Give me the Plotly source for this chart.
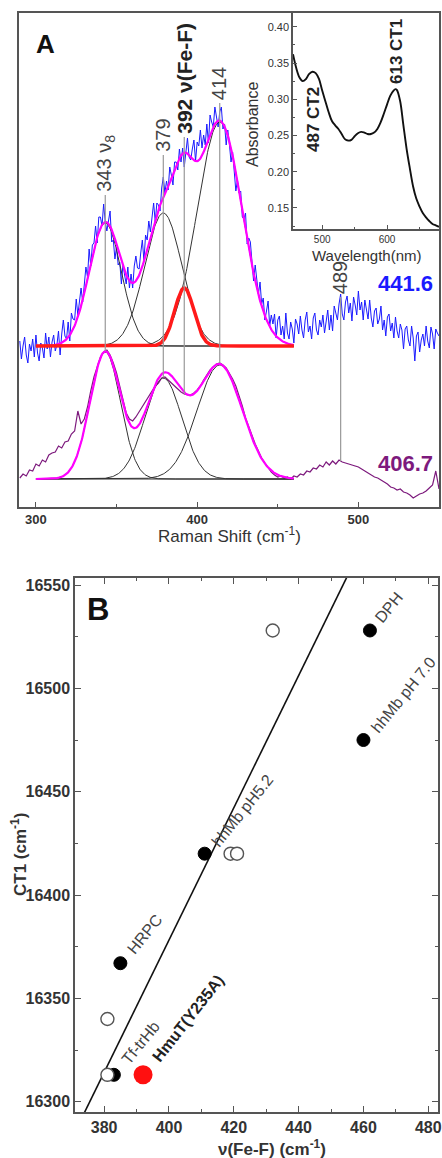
import numpy as np
import plotly.graph_objects as go

W, H = 442, 1158


def fx(p):
    return p / W


def fy(p):
    return 1 - p / H


# ---------------- Panel A: resonance Raman spectra ----------------
# 441.6 nm excitation, 1 cm-1 steps, intensity above its own baseline (a.u.)
shift_441 = list(range(290, 551))
spec_441 = [
    5, -13, 0, 9, -9, -17, 2, -5, 7, -11,
    11, -7, -15, 3, -2, -12, 13, -3, 9, -11,
    4, 11, -5, 1, 15, -9, 12, 26, 10, 7,
    24, 5, 33, 27, 26, 47, 31, 48, 58, 44,
    60, 79, 69, 97, 80, 101, 103, 120, 103, 129,
    129, 120, 142, 124, 115, 128, 135, 104, 106, 87,
    99, 81, 84, 62, 82, 71, 62, 79, 58, 72,
    58, 80, 90, 78, 77, 93, 106, 85, 111, 106,
    125, 114, 127, 143, 124, 143, 141, 135, 158, 169,
    153, 165, 156, 179, 171, 161, 184, 184, 176, 197,
    184, 198, 179, 197, 208, 189, 186, 197, 206, 185,
    204, 200, 216, 198, 211, 201, 222, 203, 231, 224,
    219, 239, 226, 219, 234, 239, 217, 222, 201, 216,
    202, 184, 194, 173, 155, 166, 153, 155, 129, 127,
    133, 102, 108, 104, 83, 65, 81, 68, 52, 64,
    42, 48, 26, 35, 45, 20, 31, 22, 32, 8,
    26, 30, 11, 20, 7, 33, 13, 7, 24, 17,
    3, 27, 22, 12, 30, 16, 8, 26, 34, 14,
    20, 7, 28, 33, 16, 11, 26, 19, 31, 13,
    23, 36, 16, 31, 15, 40, 33, 26, 42, 52,
    32, 26, 44, 50, 33, 43, 25, 49, 41, 31,
    55, 36, 44, 26, 46, 38, 27, 46, 28, 19,
    35, 38, 22, 27, 40, 16, 26, 10, 29, 32,
    15, 23, 8, 29, 15, 8, 22, 16, -3, 17,
    20, 6, 0, 20, 8, -15, 10, 14, -6, 6,
    12, 0, 20, 5, -2, 19, 12, -3, 17, 13,
    10,
]

# 406.7 nm excitation, 2 cm-1 steps, intensity above its own baseline (a.u.)
shift_406 = list(range(290, 551, 2))
spec_406 = [
    1, 5, 3, 9, 8, 15, 13, 19, 17, 24, 26, 27, 33, 31, 37, 38, 45, 48, 68, 55,
    60, 72, 88, 102, 112, 122, 127, 129, 124, 116, 106, 92, 78, 66, 60, 58, 62, 67, 73, 78,
    83, 87, 93, 96, 101, 102, 99, 95, 92, 89, 87, 85, 84, 84, 86, 89, 93, 99, 104, 109,
    112, 115, 116, 114, 111, 106, 100, 93, 84, 73, 61, 52, 44, 35, 28, 21, 16, 11, 7, 4,
    2, 3, 1, 2, 0, 3, 2, 5, 4, 8, 7, 11, 10, 14, 12, 17, 14, 18, 15, 19,
    17, 16, 15, 14, 13, 12, 10, 8, 6, 4, 2, 1, -1, -3, -5, -8, -9, -11, -10, -13,
    -14, -16, -19, -17, -15, -14, -12, -9, -6, 8, -10,
]

# stacking offsets of the two spectra
offset_441 = 161
offset_406 = 28

# Gaussian band-fit components: centre (cm-1), height, sigma (cm-1)
fit_centre_441 = [343, 379, 392, 414]
fit_height_441 = [123, 133, 58, 224]
fit_sigma_441 = [10, 11.5, 6, 14]

fit_centre_406 = [343, 379, 414]
fit_height_406 = [127, 101, 114]
fit_sigma_406 = [9.5, 11.5, 14]

fit_start, fit_end = 300, 460
fe_f_band = 392

# band markers
band_pos = [343, 379, 392, 414, 489]
band_text = ["343 ν<sub>8</sub>", "379", "<b>392 ν(Fe-F)</b>", "414", "489"]

# inset: absorption spectrum
wavelength = [455, 460, 465, 470, 475, 480, 485, 490, 495, 500, 505, 510, 515, 520,
              525, 530, 535, 540, 545, 550, 555, 560, 565, 570, 575, 580, 585, 590,
              595, 600, 605, 610, 613, 615, 620, 625, 630, 635, 640, 645, 650, 655,
              660, 665, 670, 675, 680]
absorbance = [0.362, 0.343, 0.330, 0.325, 0.328, 0.335, 0.338, 0.336, 0.328, 0.312,
              0.297, 0.282, 0.270, 0.264, 0.259, 0.252, 0.245, 0.243, 0.244, 0.249,
              0.253, 0.255, 0.254, 0.252, 0.252, 0.254, 0.259, 0.268, 0.280, 0.293,
              0.305, 0.312, 0.314, 0.313, 0.298, 0.265, 0.232, 0.205, 0.180, 0.163,
              0.152, 0.143, 0.137, 0.132, 0.128, 0.126, 0.124]

# ---------------- Panel B: CT1 vs v(Fe-F) ----------------
filled_x = [462, 460, 411, 385, 383]
filled_y = [16528, 16475, 16420, 16367, 16313]
filled_names = ["DPH", "hhMb pH 7.0", "hhMb pH5.2", "HRPC", "Tf-trHb"]

open_x = [432, 419, 421, 381, 381]
open_y = [16528, 16420, 16420, 16340, 16313]

hmut_x = [392]
hmut_y = [16313]
hmut_name = "HmuT(Y235A)"

corr_slope = 3.2
corr_intercept = 15098.2
corr_x = [370, 460]

# ------------------------------------------------------------------
FONT = "Liberation Sans, Arial, sans-serif"
TXT = "#333333"
AX = "#555555"

fit_x = np.linspace(fit_start, fit_end, 401)


def gauss(x, c, h, s):
    return h * np.exp(-((x - c) ** 2) / (2.0 * s ** 2))


fig = go.Figure()

# measured spectra
fig.add_trace(go.Scatter(x=shift_441, y=np.array(spec_441) + offset_441, mode="lines",
                         line=dict(color="#1a1aff", width=1), xaxis="x", yaxis="y"))
fig.add_trace(go.Scatter(x=shift_406, y=np.array(spec_406) + offset_406, mode="lines",
                         line=dict(color="#7d1a7d", width=1.2), xaxis="x", yaxis="y"))

# fit baselines
for off in (offset_441, offset_406):
    fig.add_trace(go.Scatter(x=[fit_start, fit_end], y=[off, off], mode="lines",
                             line=dict(color="#333333", width=1), xaxis="x", yaxis="y"))

# individual components (black)
comps_441 = []
for c, h, s in zip(fit_centre_441, fit_height_441, fit_sigma_441):
    g = gauss(fit_x, c, h, s)
    comps_441.append(g)
    if c != fe_f_band:
        fig.add_trace(go.Scatter(x=fit_x, y=g + offset_441, mode="lines",
                                 line=dict(color="#333333", width=1), xaxis="x", yaxis="y"))
comps_406 = []
for c, h, s in zip(fit_centre_406, fit_height_406, fit_sigma_406):
    g = gauss(fit_x, c, h, s)
    comps_406.append(g)
    fig.add_trace(go.Scatter(x=fit_x, y=g + offset_406, mode="lines",
                             line=dict(color="#333333", width=1), xaxis="x", yaxis="y"))

# total fits (magenta)
fig.add_trace(go.Scatter(x=fit_x, y=np.sum(comps_441, axis=0) + offset_441, mode="lines",
                         line=dict(color="#ff00ff", width=2.2), xaxis="x", yaxis="y"))
fig.add_trace(go.Scatter(x=fit_x, y=np.sum(comps_406, axis=0) + offset_406, mode="lines",
                         line=dict(color="#ff00ff", width=2.2), xaxis="x", yaxis="y"))

# Fe-F component (red)
fe_idx = fit_centre_441.index(fe_f_band)
fig.add_trace(go.Scatter(x=fit_x, y=comps_441[fe_idx] + offset_441, mode="lines",
                         line=dict(color="#ff1a1a", width=3.5), xaxis="x", yaxis="y"))

# inset absorption spectrum
fig.add_trace(go.Scatter(x=wavelength, y=absorbance, mode="lines", line_shape="spline",
                         line=dict(color="#111111", width=1.9), xaxis="x2", yaxis="y2"))

# Panel B: correlation line and points
fig.add_trace(go.Scatter(x=corr_x, y=[corr_intercept + corr_slope * v for v in corr_x],
                         mode="lines", line=dict(color="#111111", width=1.6),
                         xaxis="x3", yaxis="y3"))
fig.add_trace(go.Scatter(x=filled_x, y=filled_y, mode="markers",
                         marker=dict(size=13, color="#000000", line=dict(color="#000000", width=1)),
                         xaxis="x3", yaxis="y3"))
fig.add_trace(go.Scatter(x=open_x, y=open_y, mode="markers",
                         marker=dict(size=13, color="white", line=dict(color="#555555", width=1.4)),
                         xaxis="x3", yaxis="y3"))
fig.add_trace(go.Scatter(x=hmut_x, y=hmut_y, mode="markers",
                         marker=dict(size=19, color="#ff1010", line=dict(color="#ff1010", width=0)),
                         xaxis="x3", yaxis="y3"))

# band marker lines: from label down to the 406.7 nm trace
band_top = {343: 312, 379: 352, 392: 370, 414: 404, 489: 210}
shapes = []
annotations = []
for pos, txt in zip(band_pos, band_text):
    bottom = offset_406 + float(np.interp(pos, shift_406, spec_406))
    shapes.append(dict(type="line", xref="x", yref="y", x0=pos, x1=pos,
                       y0=bottom, y1=band_top[pos], line=dict(color="#999999", width=1.2)))
    bold = txt.startswith("<b>")
    annotations.append(dict(x=pos, y=band_top[pos], xref="x", yref="y", text=txt,
                            textangle=-90, showarrow=False, xanchor="center", yanchor="bottom",
                            yshift=1, font=dict(family=FONT, size=21 if bold else 20,
                                                color="#222222" if bold else "#444444")))


def paper_text(x, y, text, size, color=TXT, angle=0):
    annotations.append(dict(x=fx(x), y=fy(y), xref="paper", yref="paper", text=text,
                            textangle=angle, showarrow=False, xanchor="center",
                            yanchor="middle", font=dict(family=FONT, size=size, color=color)))


# spectrum labels
paper_text(405, 283, "<b>441.6</b>", 22, "#1a1aff")
paper_text(405, 464, "<b>406.7</b>", 22, "#7d1a7d")
paper_text(45, 44, "<b>A</b>", 26, "#111111")
paper_text(229, 535, "Raman Shift (cm<sup>-1</sup>)", 17)

# inset labels
paper_text(253, 124, "Absorbance", 16, angle=-90)
paper_text(366, 255, "Wavelength(nm)", 15)
paper_text(313, 120, "<b>487 CT2</b>", 17, "#222222", angle=-90)
paper_text(397, 52, "<b>613 CT1</b>", 17, "#222222", angle=-90)

# Panel B labels, offset from their points in pixels
label_shift = {"DPH": (19, 23), "hhMb pH 7.0": (40, 46), "hhMb pH5.2": (38, 43),
               "HRPC": (24, 29), "Tf-trHb": (27, 32)}
for xv, yv, name in zip(filled_x, filled_y, filled_names):
    dx, dy = label_shift[name]
    annotations.append(dict(x=xv, y=yv, xref="x3", yref="y3", text=name, textangle=-51,
                            showarrow=False, xshift=dx, yshift=dy, xanchor="center",
                            yanchor="middle", font=dict(family=FONT, size=16, color="#444444")))
annotations.append(dict(x=hmut_x[0], y=hmut_y[0], xref="x3", yref="y3",
                        text="<b>" + hmut_name + "</b>", textangle=-52, showarrow=False,
                        xshift=45, yshift=56, xanchor="center", yanchor="middle",
                        font=dict(family=FONT, size=16, color="#222222")))
paper_text(98, 609, "<b>B</b>", 31, "#111111")
paper_text(19, 855, "<b>CT1 (cm<sup>-1</sup>)</b>", 17, angle=-90)
paper_text(272, 1148, "<b>ν(Fe-F) (cm<sup>-1</sup>)</b>", 17)

axis_common = dict(showline=True, linecolor=AX, linewidth=1.5, showgrid=False, zeroline=False,
                   automargin=False)

fig.update_layout(
    width=W, height=H, margin=dict(l=0, r=0, t=0, b=0),
    paper_bgcolor="white", plot_bgcolor="white", showlegend=False,
    xaxis=dict(domain=[fx(19), fx(439)], range=[289.5, 550], anchor="y",
               tickmode="linear", tick0=300, dtick=100, ticks="inside", ticklen=5,
               tickcolor=AX, mirror=True,
               minor=dict(dtick=50, ticks="inside", ticklen=3, tickcolor=AX),
               tickfont=dict(family=FONT, size=13, color=TXT, weight="bold"), **axis_common),
    yaxis=dict(domain=[fy(507), fy(13)], range=[0, 494], anchor="x", showticklabels=False,
               ticks="", mirror=True, **axis_common),
    xaxis2=dict(domain=[fx(293), fx(439)], range=[455, 680], anchor="y2",
                tickmode="linear", tick0=500, dtick=100, ticks="inside", ticklen=4,
                tickcolor=AX, mirror=True,
                minor=dict(dtick=50, ticks="inside", ticklen=2, tickcolor=AX),
                tickfont=dict(family=FONT, size=10, color=TXT), **axis_common),
    yaxis2=dict(domain=[fy(229), fy(13)], range=[0.121, 0.419], anchor="x2",
                tickmode="linear", tick0=0, dtick=0.05, tickformat=".2f", ticks="inside",
                ticklen=4, tickcolor=AX, mirror=True,
                minor=dict(dtick=0.025, ticks="inside", ticklen=2, tickcolor=AX),
                tickfont=dict(family=FONT, size=11, color=TXT), **axis_common),
    xaxis3=dict(domain=[fx(75), fx(438)], range=[371, 483], anchor="y3",
                tickmode="linear", tick0=380, dtick=20, ticks="inside", ticklen=6,
                tickcolor=AX, mirror="ticks",
                minor=dict(dtick=10, ticks="inside", ticklen=3, tickcolor=AX),
                tickfont=dict(family=FONT, size=16, color=TXT, weight="bold"), **axis_common),
    yaxis3=dict(domain=[fy(1112), fy(578)], range=[16295, 16553.4], anchor="x3",
                tickmode="linear", tick0=16300, dtick=50, tickformat="d", ticks="inside",
                ticklen=6, tickcolor=AX, mirror="ticks",
                minor=dict(dtick=25, ticks="inside", ticklen=3, tickcolor=AX),
                tickfont=dict(family=FONT, size=16, color=TXT, weight="bold"), **axis_common),
    shapes=shapes,
    annotations=annotations,
)

fig.write_html("out.html")
